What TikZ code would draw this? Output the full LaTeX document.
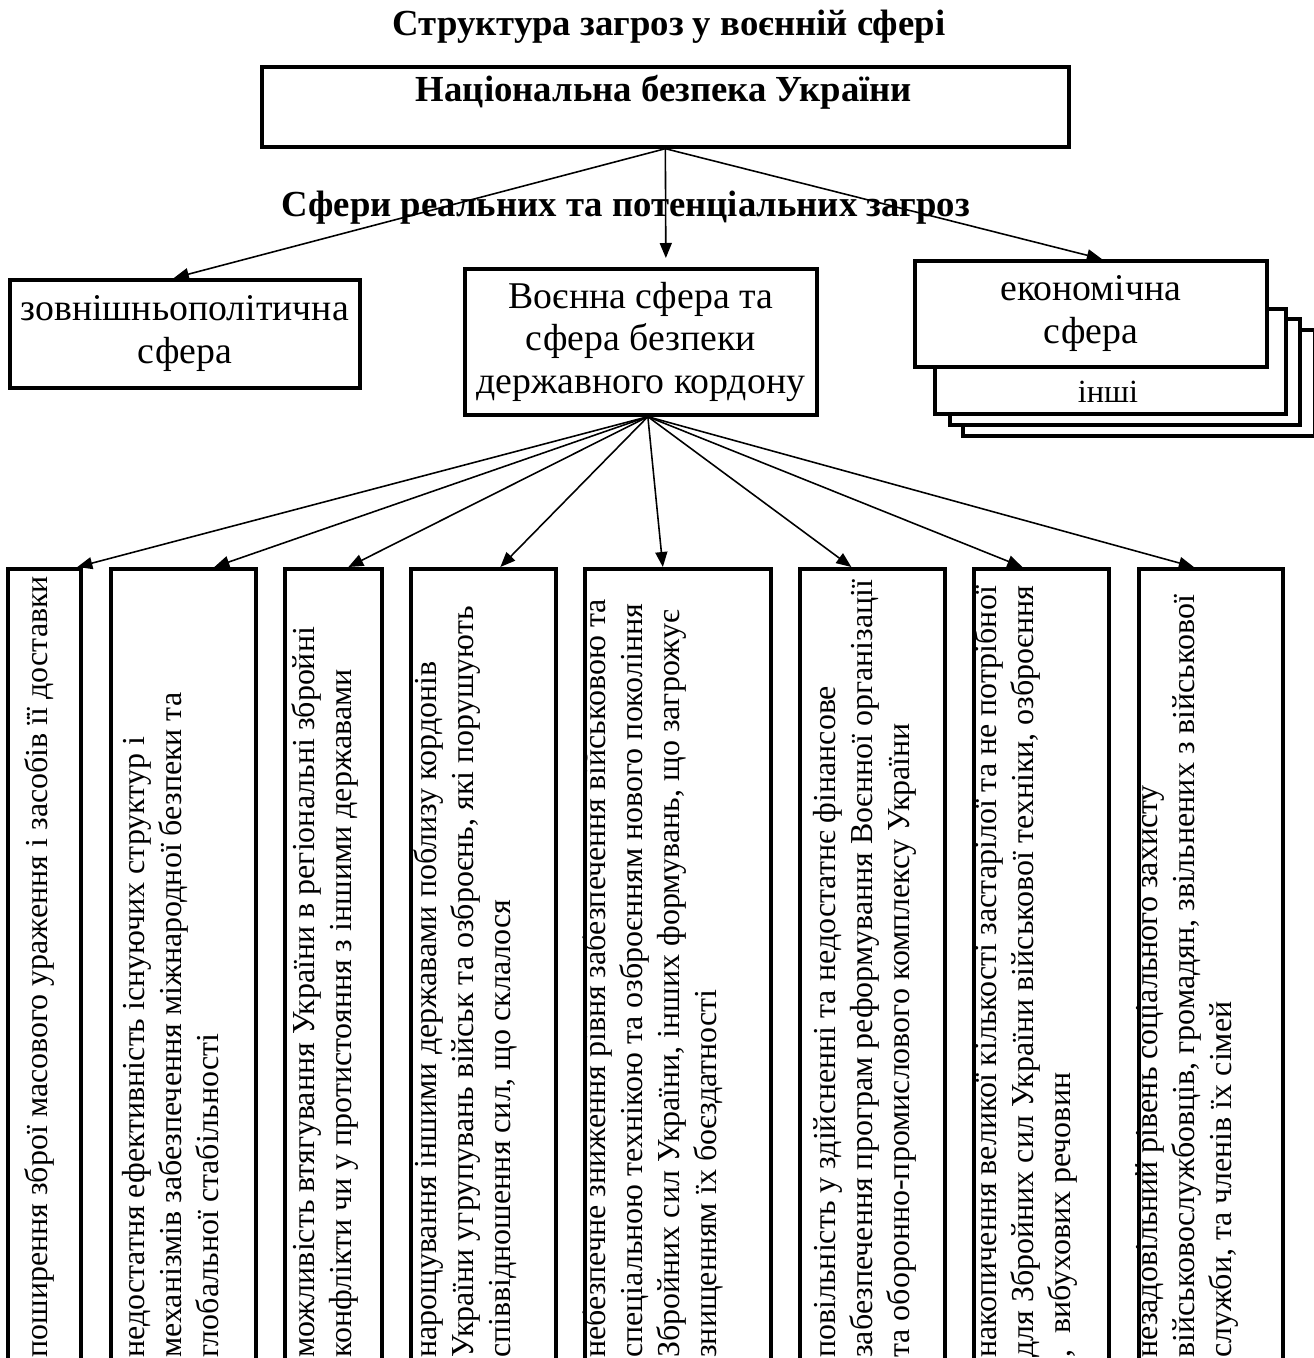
\documentclass[tikz,border=0pt]{standalone}
\usepackage{fontspec}
\setmainfont{Liberation Serif}
\usetikzlibrary{arrows.meta,calc}

\newdimen\px
\px=0.02cm

\tikzset{
  box/.style={draw, line width=2.1pt, fill=white, inner sep=0pt, anchor=north west, align=center,
    font=\fontsize{21.5}{24.4}\selectfont},
  threatbox/.style={draw, line width=2.1pt, inner sep=0pt, anchor=north west, minimum height=850\px},
  threattxt/.style={rotate=90, anchor=base west, inner sep=0pt, align=left,
    font=\fontsize{18.2}{21}\selectfont},
  bigtxt/.style={anchor=base, inner sep=0pt, font=\fontsize{20.9}{24}\selectfont\bfseries},
  arr/.style={-{Triangle[length=0.3cm,width=0.24cm]}, line width=0.9pt}
}

\begin{document}
\begin{tikzpicture}[x=0.02cm,y=-0.02cm]
\useasboundingbox (0,0) rectangle (1314,1358);

% headline
\node[bigtxt] (title) at (669,36) {Структура загроз у воєнній сфері};
\node[box, minimum width=807\px, minimum height=80\px] (nat) at (260,65) {};
\node[bigtxt] (natxt) at (664,102) {Національна безпека України};
\node[bigtxt] (spheres) at (626,217) {Сфери реальних та потенціальних загроз};

% spheres
\node[box, minimum width=350\px, minimum height=108\px] (foreign) at (8,278) {зовнішньополітична\\сфера};
\node[box, minimum width=352\px, minimum height=146\px] (mil) at (463,267) {Воєнна сфера та\\сфера безпеки\\державного кордону};

% stack of other spheres
\node[box, minimum width=352\px, minimum height=106\px] (oth3) at (961,328) {};
\node[box, minimum width=350\px, minimum height=106\px] (oth2) at (948,317) {};
\node[box, minimum width=351\px, minimum height=105\px] (oth1) at (933,307) {};
\node[font=\fontsize{18.4}{21}\selectfont, inner sep=0pt] (othtxt) at (1108,392) {інші};
\node[box, minimum width=352\px, minimum height=106\px] (econ) at (913,259) {економічна\\сфера};

\draw[arr] (nat.south) -- ($(foreign.north)+(-11,0)$);
\draw[arr] (nat.south) -- ($(mil.north)+(25,-9)$);
\draw[arr] (nat.south) -- ($(econ.north)+(11,0)$);

% threats (text anchored at the base of its last line)
\node[threatbox, minimum width=73\px] (thr1) at (6,567) {};
\node[threatbox, minimum width=145\px] (thr2) at (109,567) {};
\node[threatbox, minimum width=97\px] (thr3) at (283,567) {};
\node[threatbox, minimum width=145\px] (thr4) at (409,567) {};
\node[threatbox, minimum width=186\px] (thr5) at (583,567) {};
\node[threatbox, minimum width=145\px] (thr6) at (798,567) {};
\node[threatbox, minimum width=135\px] (thr7) at (972,567) {};
\node[threatbox, minimum width=144\px] (thr8) at (1137,567) {};

\node[threattxt] (txt1) at (47,1358) {поширення зброї масового ураження і засобів її доставки};
\node[threattxt] (txt2) at (218,1358) {недостатня ефективність існуючих структур і\\механізмів забезпечення міжнародної безпеки та\\глобальної стабільності};
\node[threattxt] (txt3) at (351,1358) {можливість втягування України в регіональні збройні\\конфлікти чи у протистояння з іншими державами};
\node[threattxt] (txt4) at (510,1358) {нарощування іншими державами поблизу кордонів\\України угрупувань військ та озброєнь, які порушують\\співвідношення сил, що склалося};
\node[threattxt] (txt5) at (716,1358) {небезпечне зниження рівня забезпечення військовою та\\спеціальною технікою та озброєнням нового покоління\\Збройних сил України, інших формувань, що загрожує\\знищенням їх боєздатності};
\node[threattxt] (txt6) at (909,1358) {повільність у здійсненні та недостатнє фінансове\\забезпечення програм реформування Воєнної організації\\та оборонно-промислового комплексу України};
\node[threattxt] (txt7) at (1070,1358) {накопичення великої кількості застарілої та не потрібної\\для Збройних сил України військової техніки, озброєння\\,\ \ вибухових речовин};
\node[threattxt] (txt8) at (1231,1358) {незадовільний рівень соціального захисту\\військовослужбовців, громадян, звільнених з військової\\служби, та членів їх сімей};

\coordinate (hub) at ($(mil.south)+(7,0)$);
\draw[arr] (hub) -- ($(thr1.north)+(33,0)$);
\draw[arr] (hub) -- ($(thr2.north)+(31,0)$);
\draw[arr] (hub) -- ($(thr3.north)+(15,0)$);
\draw[arr] (hub) -- ($(thr4.north)+(17,0)$);
\draw[arr] (hub) -- ($(thr5.north)+(-15,0)$);
\draw[arr] (hub) -- ($(thr6.north)+(-21,0)$);
\draw[arr] (hub) -- ($(thr7.north)+(-19,0)$);
\draw[arr] (hub) -- ($(thr8.north)+(-17,0)$);
\end{tikzpicture}
\end{document}
